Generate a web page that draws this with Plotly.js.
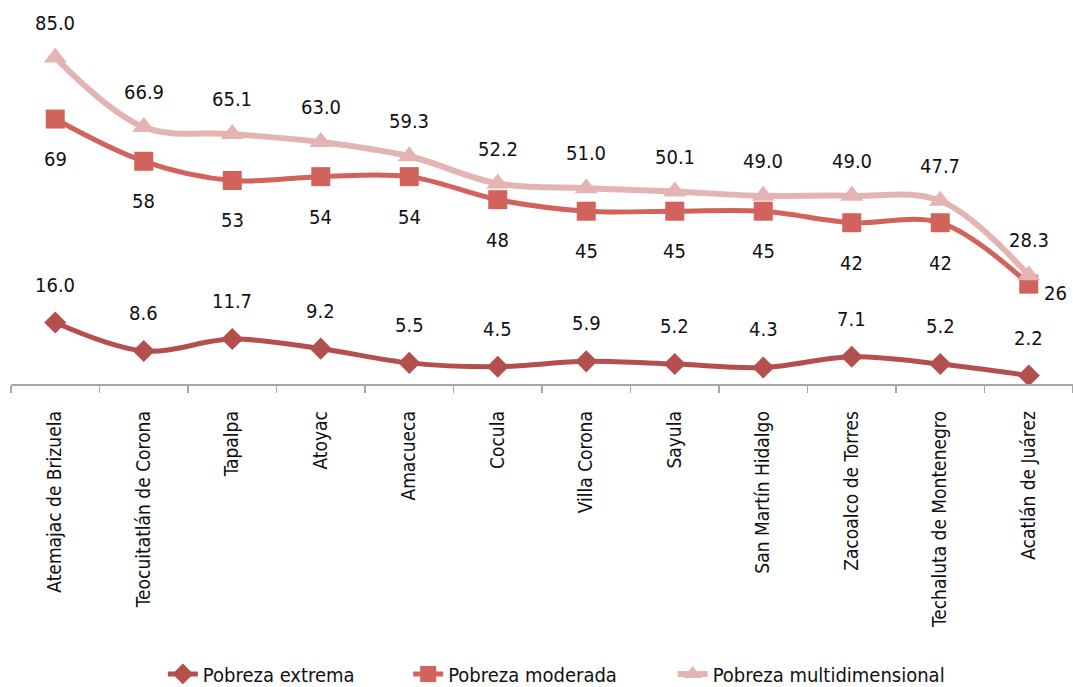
<!DOCTYPE html>
<html>
<head>
<meta charset="utf-8">
<script src="https://cdn.plot.ly/plotly-3.0.1.min.js"></script>
<style>html,body{margin:0;padding:0;background:#fff;}#chart{width:1073px;height:687px;}</style>
</head>
<body>
<div id="chart"></div>
<script>
const categories = ["Atemajac de Brizuela","Teocuitatlán de Corona","Tapalpa","Atoyac","Amacueca","Cocula","Villa Corona","Sayula","San Martín Hidalgo","Zacoalco de Torres","Techaluta de Montenegro","Acatlán de Juárez"];
const pobrezaExtrema = [16.0, 8.6, 11.7, 9.2, 5.5, 4.5, 5.9, 5.2, 4.3, 7.1, 5.2, 2.2];
const pobrezaModerada = [69, 58, 53, 54, 54, 48, 45, 45, 45, 42, 42, 26];
const pobrezaMulti = [85.0, 66.9, 65.1, 63.0, 59.3, 52.2, 51.0, 50.1, 49.0, 49.0, 47.7, 28.3];

const FONT = '"DejaVu Sans Condensed", "Liberation Sans Narrow", "DejaVu Sans", sans-serif';
const cExt = '#B3504D', cMod = '#D2635C', cMul = '#E4B4B2';

const traces = [
  {name:'Pobreza extrema', legend:'legend', x:categories, y:pobrezaExtrema, type:'scatter', mode:'lines+markers',
   line:{color:cExt, width:5, shape:'spline', smoothing:1},
   marker:{symbol:'diamond', size:17, color:cExt}},
  {name:'Pobreza moderada', legend:'legend2', x:categories, y:pobrezaModerada, type:'scatter', mode:'lines+markers',
   line:{color:cMod, width:5, shape:'spline', smoothing:1},
   marker:{symbol:'square', size:19, color:cMod}},
  {name:'Pobreza multidimensional', legend:'legend3', x:categories, y:pobrezaMulti, type:'scatter', mode:'lines+markers',
   line:{color:cMul, width:6, shape:'spline', smoothing:1},
   marker:{symbol:'triangle-up', size:20, color:cMul}}
];

const annotations = [];
const n = categories.length;
const lblFont = {family:FONT, size:20, color:'#111', stretch:'condensed'};
categories.forEach((c, i) => {
  annotations.push({x:c, y:pobrezaExtrema[i], text:pobrezaExtrema[i].toFixed(1), showarrow:false, yshift:38, font:lblFont});
  const last = i === n - 1;
  annotations.push({x:c, y:pobrezaModerada[i], text:pobrezaModerada[i].toFixed(0), showarrow:false,
    yshift: last ? -9 : -40, xshift: last ? 27 : 0, font:lblFont});
  annotations.push({x:c, y:pobrezaMulti[i], text:pobrezaMulti[i].toFixed(1), showarrow:false, yshift:35, font:lblFont});
});

const legFont = {family:FONT, size:20, color:'#111', stretch:'condensed'};
const mkLegend = (x) => ({orientation:'h', x:x, xanchor:'left', y:-0.755, yanchor:'middle', font:legFont, bgcolor:'rgba(0,0,0,0)'});

const layout = {
  width:1073, height:687,
  margin:{l:11, r:0, t:0, b:303, autoexpand:false},
  paper_bgcolor:'#fff', plot_bgcolor:'#fff',
  font:{family:FONT, size:18, color:'#111'},
  showlegend:true,
  legend: mkLegend(0.143),
  legend2: mkLegend(0.374),
  legend3: mkLegend(0.623),
  xaxis:{type:'category', range:[-0.5, 11.5], autorange:false, showline:true, linecolor:'#A6A6A6', linewidth:1.5, ticks:'outside', tickson:'boundaries', ticklen:7, tickcolor:'#A6A6A6', tickwidth:1.5,
         tickangle:-90, tickfont:{family:FONT, size:19, color:'#111', stretch:'condensed'}, showgrid:false, zeroline:false, automargin:false, ticklabelstandoff:18},
  yaxis:{range:[0,100], visible:false, showgrid:false, zeroline:false, fixedrange:true},
  annotations:annotations
};

Plotly.newPlot('chart', traces, layout, {displayModeBar:false, staticPlot:true});
</script>
</body>
</html>
